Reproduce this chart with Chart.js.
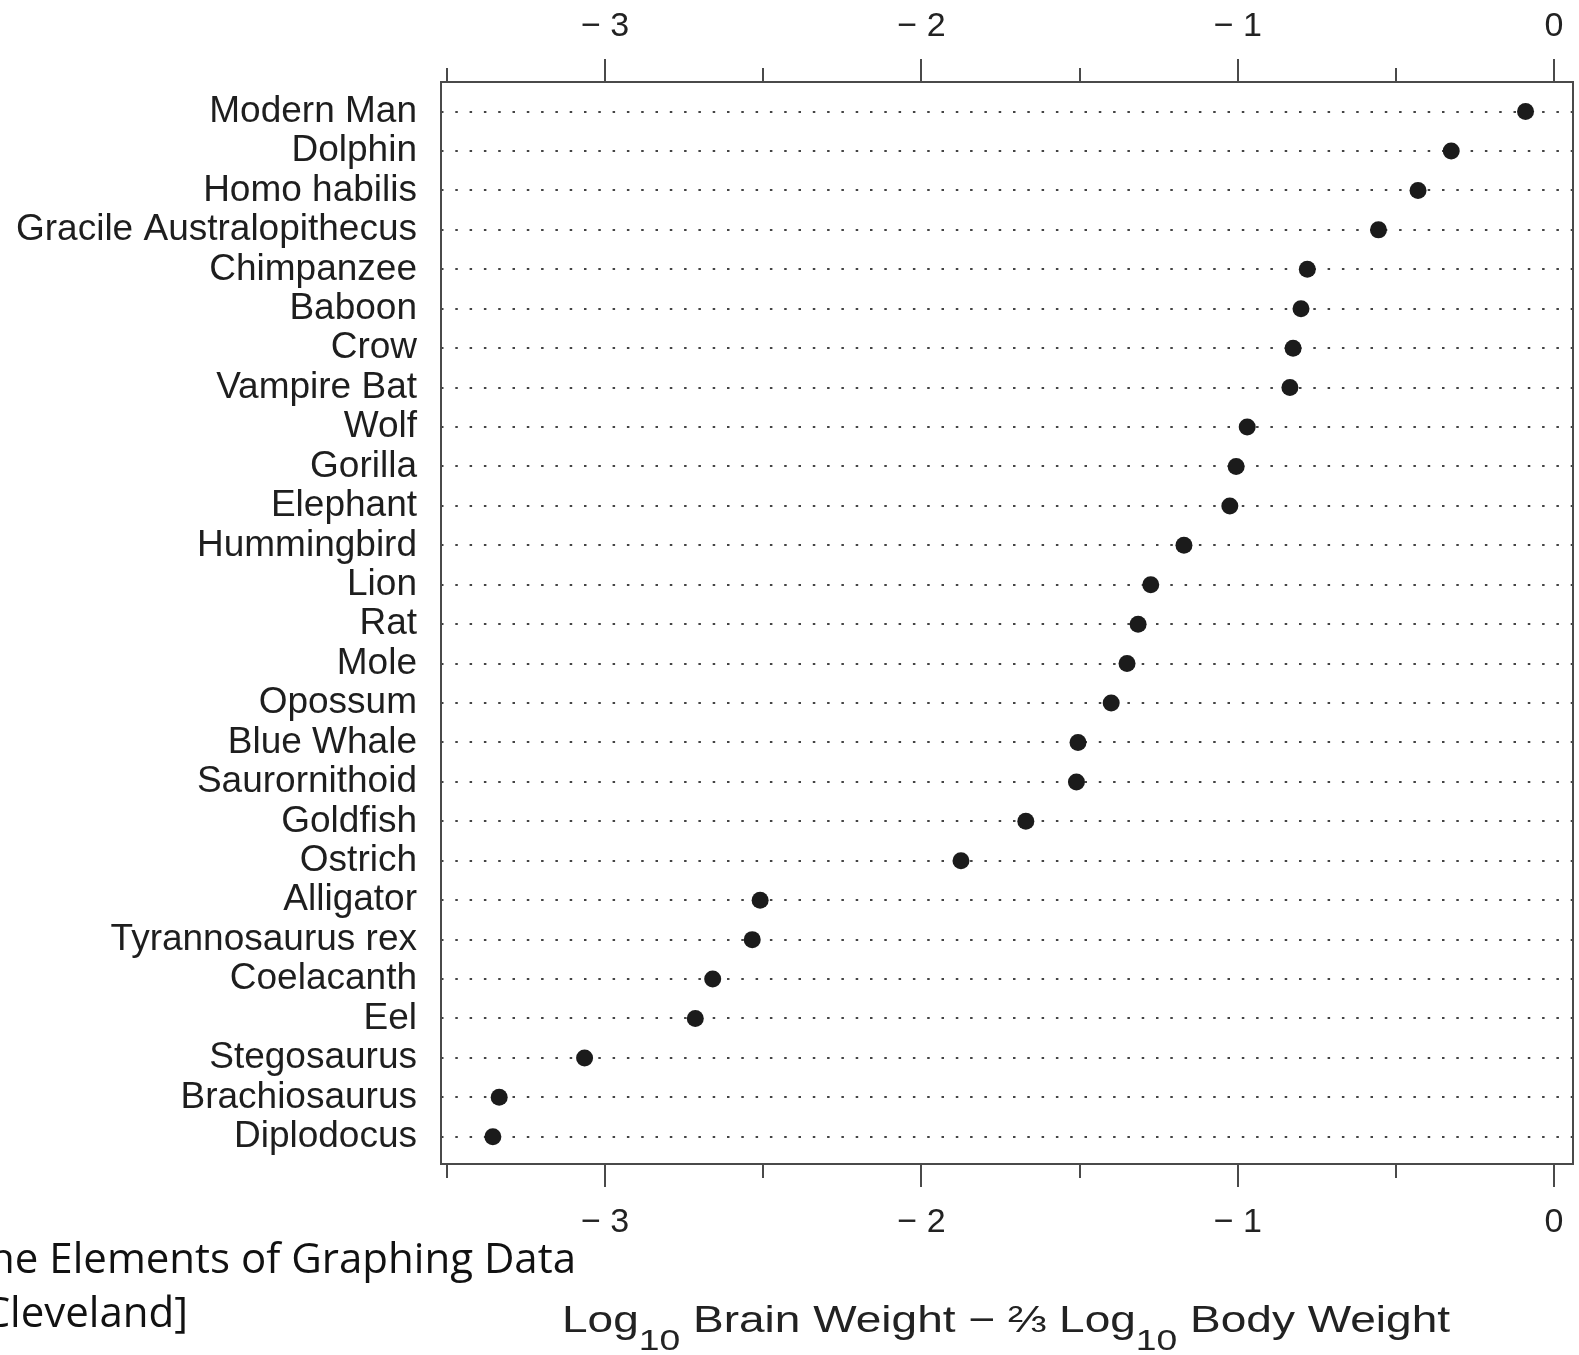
<!DOCTYPE html>
<html>
<head>
<meta charset="utf-8">
<script src="https://cdn.jsdelivr.net/npm/chart.js@4/dist/chart.umd.min.js"></script>
<style>
  html, body { margin: 0; padding: 0; background: #fff; overflow: hidden; }
  #wrap { position: relative; width: 1579px; height: 1355px; overflow: hidden; }
  canvas { position: absolute; left: 0; top: 0; }
  .cite { position: absolute; font-family: "Open Sans", Lato, sans-serif; font-size: 42px; color: #111; white-space: nowrap; line-height: 1; }
  #cite1 { right: 1003px; top: 1236px; }
  #cite2 { right: 1391px; top: 1290px; }
</style>
</head>
<body>
<div id="wrap">
  <canvas id="chart" width="1579" height="1355"></canvas>
  <div class="cite" id="cite1">[The Elements of Graphing Data</div>
  <div class="cite" id="cite2">William S. Cleveland]</div>
</div>
<script>
// animals, top to bottom
const animals = [
    "Modern Man", "Dolphin", "Homo habilis", "Gracile Australopithecus",
    "Chimpanzee", "Baboon", "Crow", "Vampire Bat", "Wolf", "Gorilla",
    "Elephant", "Hummingbird", "Lion", "Rat", "Mole", "Opossum",
    "Blue Whale", "Saurornithoid", "Goldfish", "Ostrich", "Alligator",
    "Tyrannosaurus rex", "Coelacanth", "Eel", "Stegosaurus",
    "Brachiosaurus", "Diplodocus",
];

// log10 brain weight - 2/3 log10 body weight
const brainIndex = [
    -0.09, -0.325, -0.43, -0.555,
    -0.78, -0.80, -0.825, -0.835, -0.97, -1.005,
    -1.025, -1.17, -1.275, -1.315, -1.35, -1.40,
    -1.505, -1.51, -1.67, -1.875, -2.51,
    -2.535, -2.66, -2.715, -3.065,
    -3.335, -3.355,
];

const xMajorTicks = [-3, -2, -1, 0];
const xMajorLabels = ["\u2212 3", "\u2212 2", "\u2212 1", "0"];
const xMinorTicks = [-3.5, -2.5, -1.5, -0.5];

// axis title pieces, sub = subscript
const titleParts = [
    { text: "Log", sub: false },
    { text: "10", sub: true },
    { text: " Brain Weight \u2212 \u2154 Log", sub: false },
    { text: "10", sub: true },
    { text: " Body Weight", sub: false },
];

const FONT = '"Liberation Sans", Arial, Helvetica, sans-serif';
Chart.defaults.font.family = FONT;

const allXTicks = [...xMajorTicks, ...xMinorTicks].sort((a, b) => a - b);

function xTickLabel(value) {
    const i = xMajorTicks.indexOf(value);
    return i >= 0 ? xMajorLabels[i] : "";
}

function xAxis(position, height, padding) {
    return {
        type: "linear",
        position: position,
        min: -3.519,
        max: 0.06,
        afterBuildTicks: (scale) => {
            scale.ticks = allXTicks.map((v) => ({ value: v }));
        },
        afterFit: (scale) => {
            scale.height = height;
            scale.paddingLeft = 0;
            scale.paddingRight = 0;
        },
        grid: { display: false, drawTicks: false },
        border: { display: false },
        ticks: {
            callback: xTickLabel,
            autoSkip: false,
            maxRotation: 0,
            padding: padding,
            color: "#222",
            font: { size: 34 },
        },
    };
}

const framePlugin = {
    id: "frame",
    afterDraw(chart) {
        const { ctx, chartArea: a } = chart;
        const x = chart.scales.x;
        ctx.save();
        ctx.strokeStyle = "#4a4a4a";
        ctx.lineWidth = 2;
        ctx.strokeRect(a.left, a.top, a.right - a.left, a.bottom - a.top);

        ctx.beginPath();
        for (const t of x.ticks) {
            const px = Math.round(x.getPixelForValue(t.value));
            const len = xMajorTicks.includes(t.value) ? 23 : 14;
            ctx.moveTo(px, a.bottom);
            ctx.lineTo(px, a.bottom + len);
            ctx.moveTo(px, a.top);
            ctx.lineTo(px, a.top - len);
        }
        ctx.stroke();

        // x axis title with subscripts
        const mainFont = "37px " + FONT;
        const subFont = "30px " + FONT;
        let width = 0;
        for (const p of titleParts) {
            ctx.font = p.sub ? subFont : mainFont;
            width += ctx.measureText(p.text).width;
        }
        const targetWidth = 888;
        const cx = (a.left + a.right) / 2 - 1;
        ctx.translate(cx, 1332);
        ctx.scale(targetWidth / width, 1);
        ctx.fillStyle = "#222";
        ctx.textBaseline = "alphabetic";
        let pos = -width / 2;
        for (const p of titleParts) {
            ctx.font = p.sub ? subFont : mainFont;
            ctx.fillText(p.text, pos, p.sub ? 18 : 0);
            pos += ctx.measureText(p.text).width;
        }
        ctx.restore();
    },
};

new Chart(document.getElementById("chart"), {
    type: "scatter",
    data: {
        datasets: [
            {
                data: animals.map((name, i) => ({ x: brainIndex[i], y: i })),
                pointRadius: 8.5,
                pointHoverRadius: 8.5,
                backgroundColor: "#1b1b1b",
                borderWidth: 0,
            },
        ],
    },
    options: {
        responsive: false,
        animation: false,
        events: [],
        layout: { autoPadding: false, padding: { left: 0, right: 6, top: 0, bottom: 0 } },
        plugins: {
            legend: { display: false },
            tooltip: { enabled: false },
        },
        scales: {
            x: xAxis("bottom", 191, 38),
            x2: xAxis("top", 82, 35),
            y: {
                type: "linear",
                min: -0.75,
                max: 26.69,
                reverse: true,
                afterBuildTicks: (scale) => {
                    scale.ticks = animals.map((name, i) => ({ value: i }));
                },
                afterFit: (scale) => {
                    scale.width = 441;
                    scale.paddingTop = 0;
                    scale.paddingBottom = 0;
                },
                grid: { color: "#444", lineWidth: 2, drawTicks: false },
                border: { display: false, dash: [2.5, 11.8] },
                ticks: {
                    callback: (v) => animals[v],
                    autoSkip: false,
                    padding: 24,
                    color: "#1e1e1e",
                    font: { size: 37 },
                },
            },
        },
    },
    plugins: [framePlugin],
});
</script>
</body>
</html>
